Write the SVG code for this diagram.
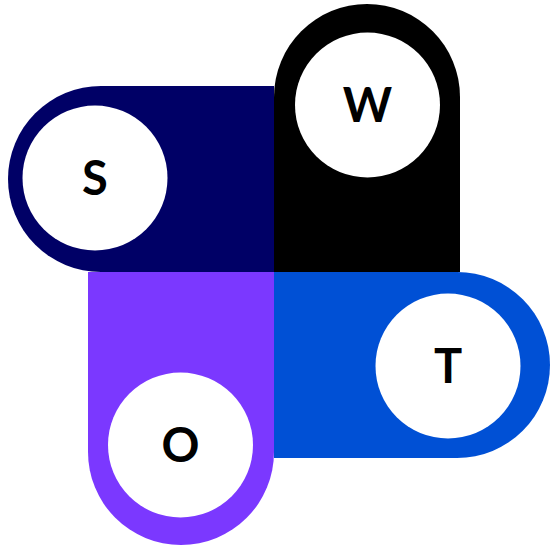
<svg xmlns="http://www.w3.org/2000/svg" width="550" height="548" viewBox="0 0 550 548">
<style>
.hole{fill:#ffffff}
.lbl{font-family:Lato,"Liberation Sans",sans-serif;font-weight:bold;font-size:47px;fill:#000000;text-anchor:middle}
</style>
<rect width="550" height="548" fill="#ffffff"/>
<g id="connectors"></g>
<g id="node-S">
<path d="M274,86 H101 A93,93 0 0 0 101,272 H274 Z" fill="#000066"/>
<circle class="hole" cx="95" cy="178" r="72.5"/>
<text class="lbl" x="95" y="195">S</text>
</g>
<g id="node-W">
<path d="M274,272 V97 A93,93 0 0 1 460,97 V272 Z" fill="#000000"/>
<circle class="hole" cx="367.5" cy="105" r="72.5"/>
<text class="lbl" x="367.5" y="122">W</text>
</g>
<g id="node-T">
<path d="M274,272 H457 A93,93 0 0 1 457,458 H274 Z" fill="#0050d5"/>
<circle class="hole" cx="448" cy="366" r="72.5"/>
<text class="lbl" x="448" y="383">T</text>
</g>
<g id="node-O">
<path d="M88,272 H274 V452 A93,93 0 0 1 88,452 Z" fill="#7b38ff"/>
<circle class="hole" cx="180.5" cy="445" r="72.5"/>
<text class="lbl" x="180.5" y="462">O</text>
</g>
</svg>
